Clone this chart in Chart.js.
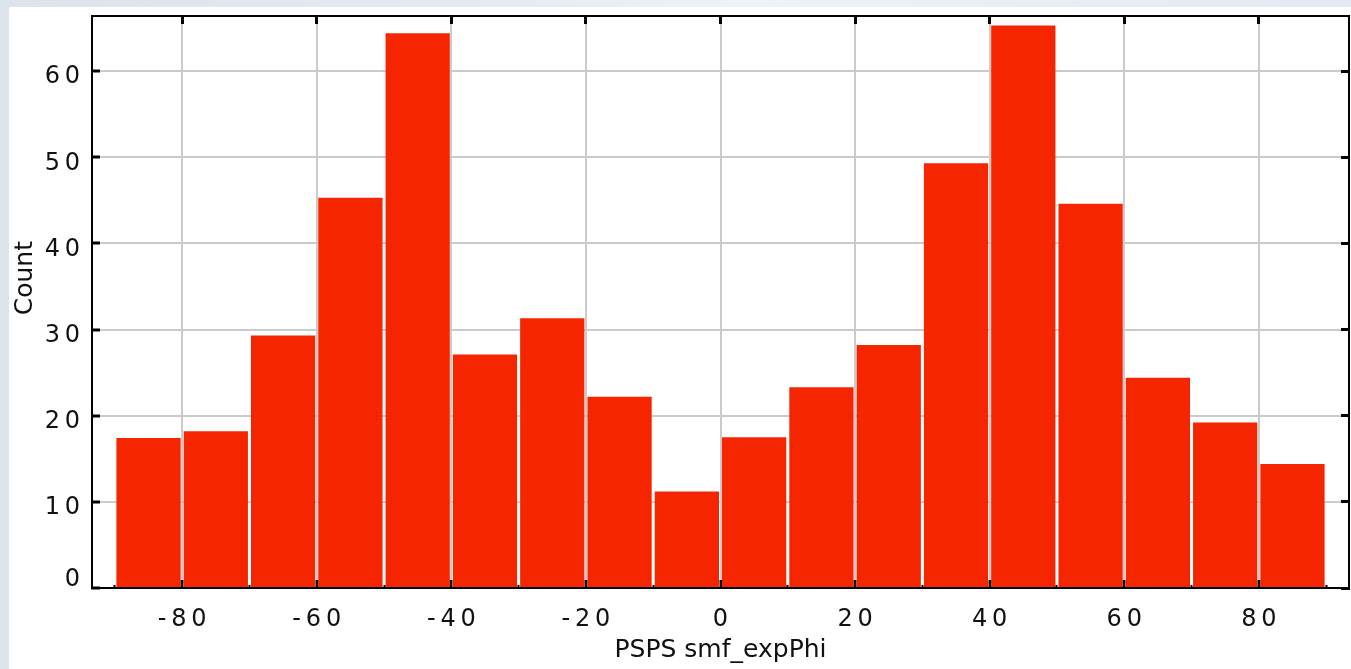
<!DOCTYPE html>
<html lang="en">
<head>
<meta charset="UTF-8">
<title>PSPS smf_expPhi histogram</title>
<script src="https://cdn.jsdelivr.net/npm/chart.js"></script>
<style>
  html, body { margin: 0; padding: 0; }
  body {
    width: 1351px; height: 669px; overflow: hidden; position: relative;
    background: linear-gradient(to right, #dde3ea 0%, #e4eaf2 35%, #eef2f8 55%, #e3e9f2 100%);
  }
  .panel { position: absolute; left: 9px; top: 7px; right: 0; bottom: 0; background: #fff; }
  canvas { position: absolute; left: 0; top: 0; }
</style>
</head>
<body>
<div class="panel"></div>
<canvas id="hist" width="1351" height="669"></canvas>
<script>
// histogram bins (width 10) and counts
const binCenters = [-85, -75, -65, -55, -45, -35, -25, -15, -5, 5, 15, 25, 35, 45, 55, 65, 75, 85];
const counts = [17.4, 18.2, 29.3, 45.3, 64.4, 27.1, 31.3, 22.2, 11.2, 17.5, 23.3, 28.2, 49.3, 65.3, 44.6, 24.4, 19.2, 14.4];

const xTickValues = [-80, -60, -40, -20, 0, 20, 40, 60, 80];
const xMinorValues = [-90, -70, -50, -30, -10, 10, 30, 50, 70, 90];
const yTickValues = [0, 10, 20, 30, 40, 50, 60];

const xRange = [-93.4, 93.4];
const yRange = [0, 66.4];

const FONT = 'DejaVu Sans';
const spaced = s => String(s).split('').join('\u2009');

function setTicks(values) {
  return axis => { axis.ticks = values.map(v => ({ value: v })); };
}

// fix an axis' thickness and drop the label overhang padding
function fitTo(size) {
  return s => {
    if (s.isHorizontal()) s.height = size; else s.width = size;
    s.paddingTop = s.paddingBottom = s.paddingLeft = s.paddingRight = 0;
  };
}

const frame = { display: true, color: '#000', width: 2, z: 1 };

new Chart(document.getElementById('hist'), {
  type: 'bar',
  data: {
    datasets: [{
      data: binCenters.map((x, i) => ({ x: x, y: counts[i] })),
      backgroundColor: '#f52500',
      borderWidth: 0,
      barPercentage: 0.955,
      categoryPercentage: 1,
      xAxisID: 'x',
      yAxisID: 'y'
    }]
  },
  options: {
    responsive: false,
    animation: false,
    layout: { padding: { top: 16, right: 2, left: 0, bottom: 0 } },
    plugins: { legend: { display: false }, tooltip: { enabled: false } },
    scales: {
      x: {
        type: 'linear', position: 'bottom', weight: 1,
        min: xRange[0], max: xRange[1], offset: false,
        afterBuildTicks: setTicks(xTickValues),
        afterFit: fitTo(81),
        grid: { offset: false, color: '#cbcbcb', lineWidth: 2, tickColor: '#000', tickWidth: 3, tickLength: -8 },
        border: frame,
        ticks: {
          padding: 25, color: '#111',
          font: { family: FONT, size: 24 },
          callback: v => spaced(v)
        },
        title: {
          display: true, text: 'PSPS smf_expPhi', color: '#111',
          font: { family: FONT, size: 25 },
          padding: { top: 0, bottom: 4 }
        }
      },
      xMinor: {
        type: 'linear', position: 'bottom', weight: 0,
        min: xRange[0], max: xRange[1], offset: false,
        afterBuildTicks: setTicks(xMinorValues),
        afterFit: fitTo(0),
        grid: { drawOnChartArea: false, offset: false, tickColor: '#000', tickWidth: 2, tickLength: -3, z: 1 },
        border: { display: false },
        ticks: { display: false }
      },
      x2: {
        type: 'linear', position: 'top',
        min: xRange[0], max: xRange[1], offset: false,
        afterBuildTicks: setTicks(xTickValues),
        afterFit: fitTo(0),
        grid: { drawOnChartArea: false, offset: false, tickColor: '#000', tickWidth: 3, tickLength: -8, z: 1 },
        border: frame,
        ticks: { display: false }
      },
      y: {
        type: 'linear', position: 'left',
        min: yRange[0], max: yRange[1],
        afterBuildTicks: setTicks(yTickValues),
        afterFit: fitTo(92),
        grid: { color: '#cbcbcb', lineWidth: 2, tickColor: '#000', tickWidth: 3, tickLength: -8 },
        border: frame,
        ticks: {
          padding: 20, labelOffset: 6, color: '#111',
          font: { family: FONT, size: 24 },
          callback: v => v === 0 ? ['0', ''] : spaced(v)
        },
        title: {
          display: true, text: '      Count', color: '#111',
          font: { family: FONT, size: 25 },
          padding: { top: 10, bottom: 0 }
        }
      },
      y2: {
        type: 'linear', position: 'right',
        min: yRange[0], max: yRange[1],
        afterBuildTicks: setTicks(yTickValues),
        afterFit: fitTo(0),
        grid: { drawOnChartArea: false, tickColor: '#000', tickWidth: 3, tickLength: -8, z: 1 },
        border: frame,
        ticks: { display: false }
      }
    }
  }
});
</script>
</body>
</html>
